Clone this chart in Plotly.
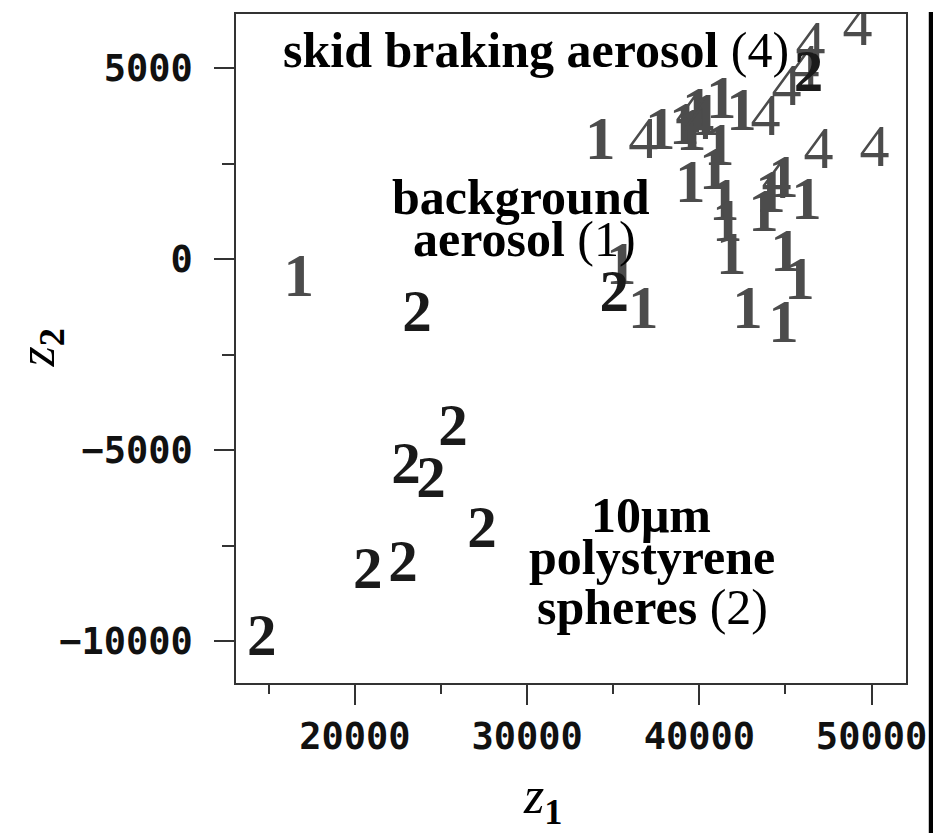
import plotly.graph_objects as go

# ---- data ----
z1_bg = [16744, 34244, 37733, 39128, 39884, 40349, 39535, 41279, 42442, 39477,
         41163, 40872, 41454, 41628, 41861, 44884, 44128, 43721, 46221, 45000,
         45814, 42791, 44884, 35465, 36744]
z2_bg = [-574, 3029, 3290, 3420, 3812, 3655, 3264, 4099, 3786, 1906,
         2872, 2245, 1436, 862, 0, 2037, 1645, 1149, 1462, 78,
         -653, -1410, -1775, -261, -1410]

z1_skid = [36744, 39477, 40000, 43837, 45058, 46105, 46454, 49186, 46919, 50174, 44477]
z2_skid = [3029, 3734, 3551, 3655, 4439, 4961, 5561, 6005, 2768, 2820, 1984]

z1_ps = [14593, 20756, 22791, 27384, 22965, 24419, 25698, 23605, 35058, 46337]
z2_ps = [-9974, -8225, -8042, -7154, -5483, -5849, -4491, -1488, -966, 4778]

x_ticks = [20000, 30000, 40000, 50000]
y_ticks = [-10000, -5000, 0, 5000]

GREY = "#4c4c4c"
DARK = "#1a1a1a"
SERIF = "Liberation Serif"

fig = go.Figure()
fig.add_trace(go.Scatter(x=z1_bg, y=z2_bg, mode="text", text=["1"] * len(z1_bg),
                         textposition="middle center",
                         textfont=dict(family=SERIF, size=61, color=GREY, weight="bold"),
                         showlegend=False))
fig.add_trace(go.Scatter(x=z1_skid, y=z2_skid, mode="text", text=["4"] * len(z1_skid),
                         textposition="middle center",
                         textfont=dict(family=SERIF, size=60, color=GREY),
                         showlegend=False))
fig.add_trace(go.Scatter(x=z1_ps, y=z2_ps, mode="text", text=["2"] * len(z1_ps),
                         textposition="middle center",
                         textfont=dict(family=SERIF, size=59, color=DARK, weight="bold"),
                         showlegend=False))

tickfont = dict(family="DejaVu Sans Mono", size=37, color="#111111", weight="bold")
axis_common = dict(showgrid=False, zeroline=False, showline=True, linecolor="#333333",
                   linewidth=1.5, mirror=True, ticks="outside", ticklen=20, tickwidth=1.5,
                   tickcolor="#333333", tickfont=tickfont)

fig.update_xaxes(range=[13100, 52000], tickvals=x_ticks,
                 ticktext=[str(v) for v in x_ticks],
                 minor=dict(dtick=5000, tick0=0, ticks="outside", ticklen=9,
                            tickwidth=1.5, tickcolor="#333333"),
                 ticklabelstandoff=0, **axis_common)
fig.update_yaxes(range=[-11100, 6420], tickvals=y_ticks,
                 ticktext=[("\u2212" + str(-v)) if v < 0 else str(v) for v in y_ticks],
                 minor=dict(dtick=2500, tick0=0, ticks="outside", ticklen=12,
                            tickwidth=1.5, tickcolor="#333333"),
                 ticklabelstandoff=14, **axis_common)

afont = dict(family=SERIF, size=50, color="#000000")
labels = [
    ("<b>skid braking aerosol</b> (4)", 0.448, 0.946),
    ("<b>background</b>", 0.425, 0.727),
    ("<b>aerosol</b> (1)", 0.430, 0.663),
    ("<b>10\u03bcm</b>", 0.619, 0.251),
    ("<b>polystyrene</b>", 0.621, 0.188),
    ("<b>spheres</b> (2)", 0.622, 0.114),
]
for txt, xp, yp in labels:
    fig.add_annotation(text=txt, x=xp, y=yp, xref="paper", yref="paper",
                       xanchor="center", yanchor="middle", showarrow=False, font=afont)

# axis titles
fig.add_annotation(text="<i>z</i><sub><b>1</b></sub>", x=0.458, y=-0.226,
                   xref="paper", yref="paper", showarrow=False,
                   font=dict(family=SERIF, size=52, color="#000"))
fig.add_annotation(text="<i>z</i><sub><b>2</b></sub>", x=-0.344, y=0.5,
                   xref="paper", yref="paper", showarrow=False, textangle=-90,
                   font=dict(family=SERIF, size=52, color="#000"))

# thick black bar at right edge of the picture
fig.add_shape(type="rect", xref="paper", yref="paper", x0=1.034, x1=1.046, y0=-0.23, y1=1.003,
              fillcolor="#000", line=dict(width=0))

fig.update_layout(width=933, height=825, margin=dict(l=228, r=35, t=4, b=150),
                  plot_bgcolor="white", paper_bgcolor="white")

fig.write_html("out.html")
